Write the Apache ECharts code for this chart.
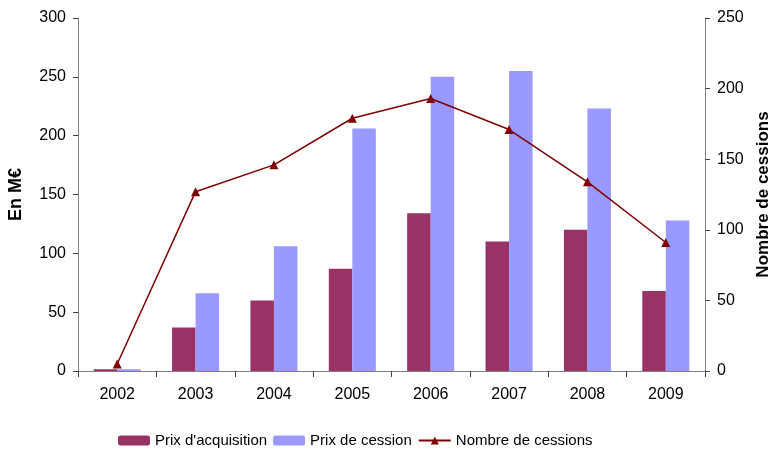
<!DOCTYPE html>
<html><head><meta charset="utf-8">
<script src="https://cdn.jsdelivr.net/npm/echarts@6/dist/echarts.min.js"></script>
<style>html,body{margin:0;padding:0;background:#fff}#c{width:771px;height:449px}</style>
</head><body><div id="c"></div>
<script>
const years = ['2002','2003','2004','2005','2006','2007','2008','2009'];
const prixAcquisition = [1.5, 37, 60, 87, 134, 110, 120, 68];
const prixCession = [1.5, 66, 106, 206, 250, 255, 223, 128];
const nombreCessions = [5, 127, 146, 179, 193, 171, 134, 91];

const font = '"Liberation Sans", Arial, sans-serif';
const chart = echarts.init(document.getElementById('c'));
chart.setOption({
  animation: false,
  textStyle: { fontFamily: font },
  grid: { left: 78, right: 66, top: 18, bottom: 78, outerBoundsMode: 'none', containLabel: false },
  legend: {
    top: 428, left: 113,
    itemWidth: 32, itemHeight: 10, itemGap: 6,
    textStyle: { fontSize: 15, color: '#000', fontFamily: font },
    data: ['Prix d\'acquisition', 'Prix de cession', 'Nombre de cessions']
  },
  xAxis: {
    type: 'category', data: years,
    axisLine: { lineStyle: { color: '#808080', width: 1 } },
    axisTick: { show: true, length: 6, lineStyle: { color: '#404040' } },
    axisLabel: { fontSize: 16, color: '#000', margin: 16, fontFamily: font }
  },
  yAxis: [{
    type: 'value', min: 0, max: 300, interval: 50,
    name: 'En M€', nameLocation: 'middle', nameGap: 53, nameRotate: 90,
    nameTextStyle: { fontSize: 18, fontWeight: 'bold', color: '#000', fontFamily: font },
    axisLine: { show: true, lineStyle: { color: '#808080' } },
    axisTick: { show: true, length: 5, lineStyle: { color: '#404040' } },
    axisLabel: { fontSize: 16, color: '#000', margin: 12, fontFamily: font },
    splitLine: { show: false }
  }, {
    type: 'value', min: 0, max: 250, interval: 50, position: 'right',
    name: 'Nombre de cessions', nameLocation: 'middle', nameGap: 50, nameRotate: 90,
    nameTextStyle: { fontSize: 17, fontWeight: 'bold', color: '#000', fontFamily: font },
    axisLine: { show: true, lineStyle: { color: '#808080' } },
    axisTick: { show: true, length: 5, lineStyle: { color: '#404040' } },
    axisLabel: { fontSize: 16, color: '#000', margin: 12, fontFamily: font },
    splitLine: { show: false }
  }],
  series: [{
    name: 'Prix d\'acquisition', type: 'bar', data: prixAcquisition,
    itemStyle: { color: '#993366' }, barGap: '0%', barCategoryGap: '40%'
  }, {
    name: 'Prix de cession', type: 'bar', data: prixCession,
    itemStyle: { color: '#9999FF' }
  }, {
    name: 'Nombre de cessions', type: 'line', yAxisIndex: 1, data: nombreCessions,
    symbol: 'triangle', symbolSize: 9,
    lineStyle: { color: '#800000', width: 1.5 },
    itemStyle: { color: '#800000' }
  }]
});
</script></body></html>
